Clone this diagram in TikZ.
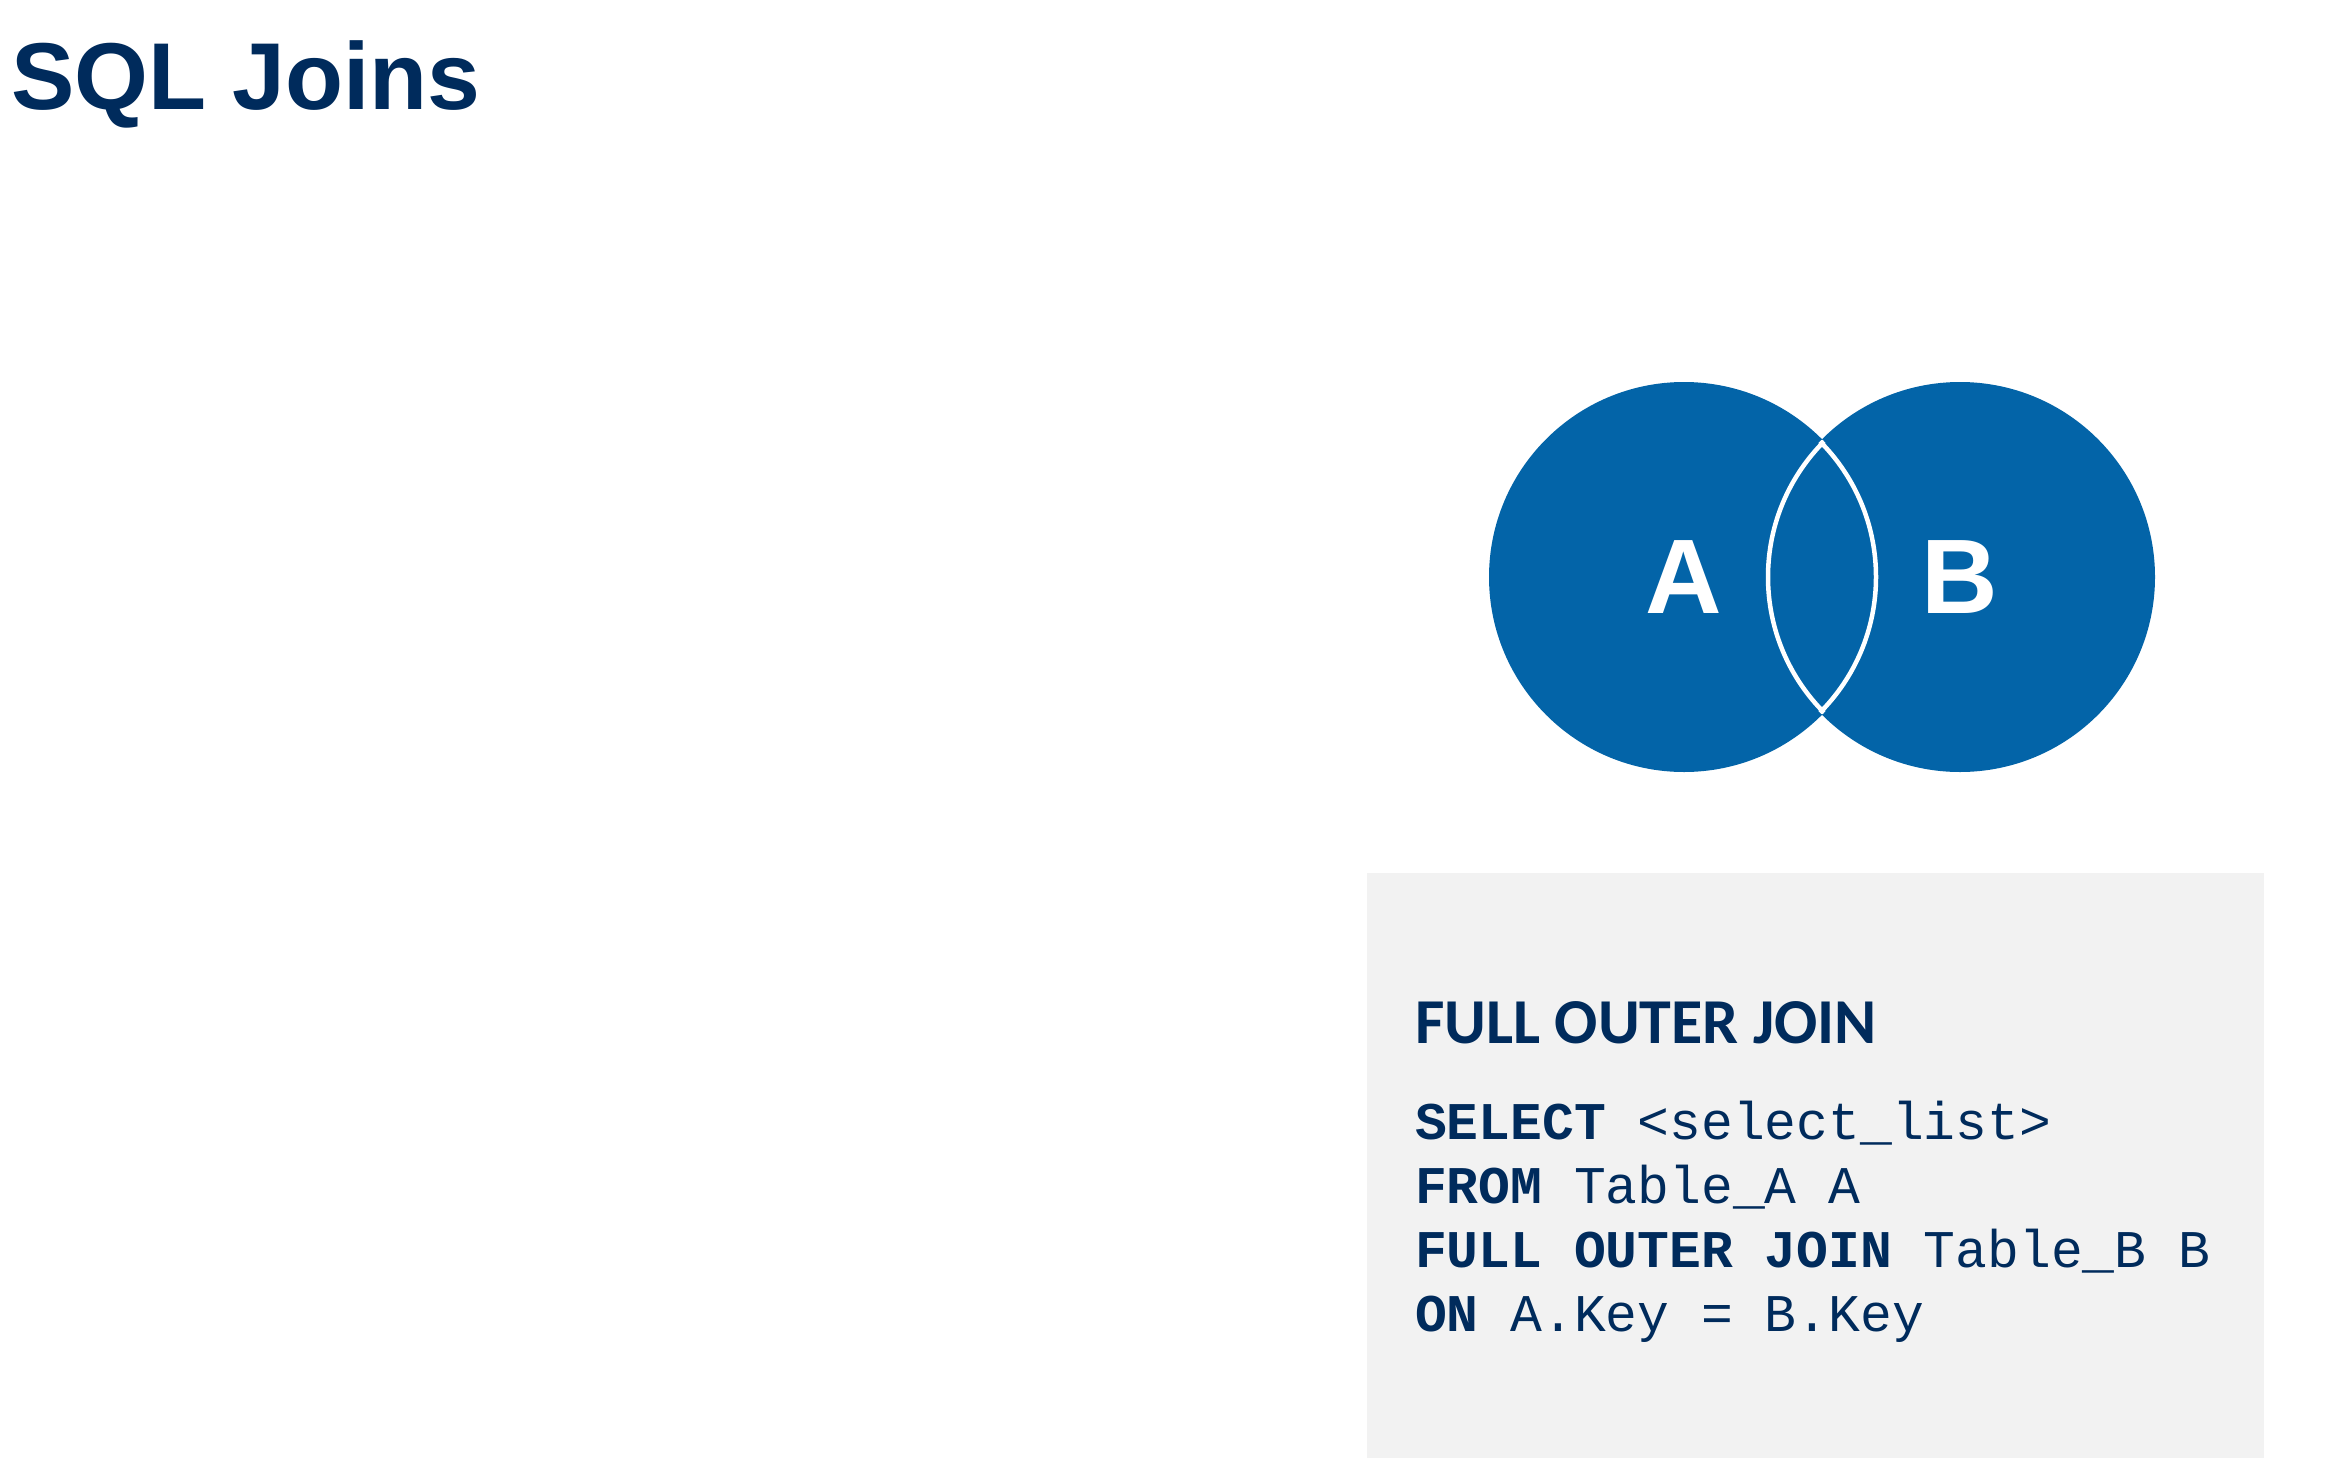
\documentclass[tikz,border=0pt]{standalone}
\usepackage{fontspec}
\setmainfont{Liberation Sans}
\newfontfamily\calib{Carlito}
\newfontfamily\cmono{Liberation Mono}
\definecolor{navy}{HTML}{002B5C}
\definecolor{vennblue}{HTML}{0364A8}
\definecolor{boxgray}{HTML}{F2F2F2}
\begin{document}
\begin{tikzpicture}[x=1pt,y=-1pt,
  txt/.style={inner sep=0pt, outer sep=0pt, anchor=base west, text=navy},
  code/.style={txt, font=\cmono\fontsize{53}{64}\selectfont},
  lbl/.style={inner sep=0pt, text=white, font=\bfseries\fontsize{106}{120}\selectfont},
  lens/.style={draw=white, line width=4.5pt}]
\useasboundingbox (0,0) rectangle (2337,1483);
\fill[white] (0,0) rectangle (2337,1483);
% title
\node[txt, font=\bfseries\fontsize{95}{114}\selectfont] (title) at (11,109.5) {SQL Joins};
% venn
\coordinate (ca) at (1684,577);
\coordinate (cb) at (1960,577);
\fill[vennblue] (ca) circle[radius=195];
\fill[vennblue] (cb) circle[radius=195];
\begin{scope}
  \clip (ca) circle[radius=195];
  \draw[lens] (cb) circle[radius=192];
\end{scope}
\begin{scope}
  \clip (cb) circle[radius=195];
  \draw[lens] (ca) circle[radius=192];
\end{scope}
\node[lbl] (A) at (1684,577) {A};
\node[lbl] (B) at (1960,577) {B};
% gray box
\fill[boxgray] (1367,873) rectangle (2264,1458);
\node[txt, font=\calib\bfseries\fontsize{64}{72}\selectfont] (head) at (1415,1043) {FULL OUTER JOIN};
\node[code] (l1) at (1415,1139) {\textbf{SELECT} <select\_list>};
\node[code] (l2) at (1415,1203) {\textbf{FROM} Table\_A A};
\node[code] (l3) at (1415,1267) {\textbf{FULL OUTER JOIN} Table\_B B};
\node[code] (l4) at (1415,1331) {\textbf{ON} A.Key = B.Key};
\end{tikzpicture}
\end{document}
